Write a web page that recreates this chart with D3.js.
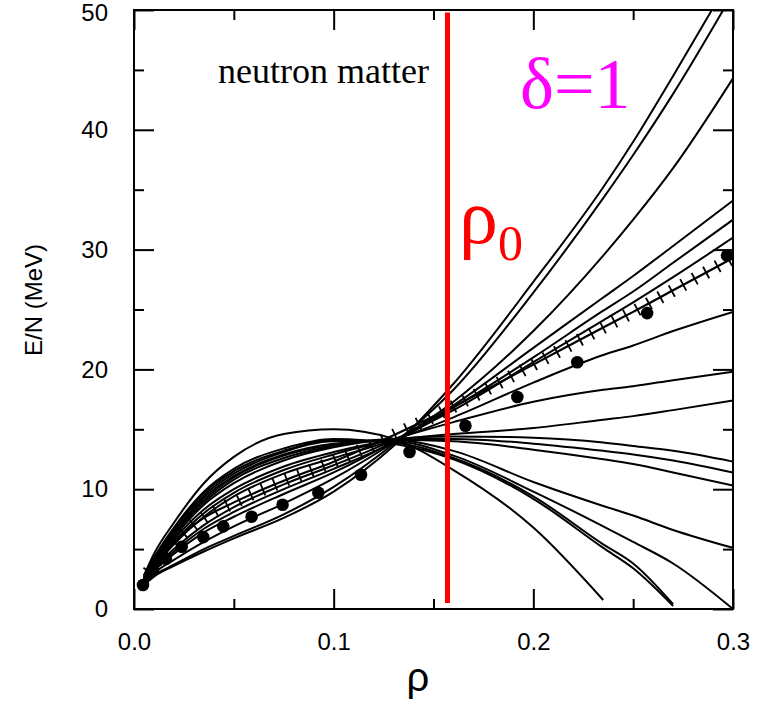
<!DOCTYPE html>
<html>
<head>
<meta charset="utf-8">
<script src="https://cdnjs.cloudflare.com/ajax/libs/d3/7.8.5/d3.min.js"></script>
<style>
  html, body { margin: 0; padding: 0; background: #fff; }
  svg { display: block; }
</style>
</head>
<body>
<svg id="chart" width="758" height="701"></svg>
<script>
// ---- data ----
const rhoGrid = [0.005, 0.01, 0.02, 0.035, 0.05, 0.075, 0.1, 0.13, 0.16, 0.2, 0.235, 0.25, 0.27, 0.3];

const eosA = [2.0, 2.7, 3.6, 4.8, 5.9, 7.6, 9.8, 13.6, 18.8, 27.3, 35.2, 39.0, 44.5, 53.0];
const eosB = [2.1, 2.8, 3.7, 5.0, 6.1, 7.9, 10.2, 13.8, 18.3, 26.4, 34.3, 37.9, 43.0, 51.4];
const eosC = [2.2, 3.0, 4.1, 5.6, 6.9, 8.8, 10.9, 13.9, 17.3, 23.2, 29.5, 32.5, 36.8, 44.3];
const eosD = [2.3, 3.2, 4.6, 6.4, 7.7, 9.6, 11.4, 14.0, 17.0, 21.8, 26.0, 27.8, 30.3, 34.1];
const eosE = [2.3, 3.3, 4.8, 6.7, 8.1, 10.0, 11.7, 13.9, 16.8, 21.0, 24.9, 26.5, 28.9, 32.5];
const eosF = [2.4, 3.4, 5.0, 7.0, 8.5, 10.4, 12.0, 14.1, 16.6, 20.6, 24.1, 25.6, 27.7, 31.0];
const eosG = [2.4, 3.5, 5.4, 7.7, 9.4, 11.3, 12.6, 14.1, 16.0, 18.9, 21.2, 22.0, 23.2, 24.8];
const eosH = [2.5, 3.6, 5.6, 8.0, 9.7, 11.6, 12.9, 14.2, 15.6, 17.3, 18.3, 18.6, 19.1, 19.8];
const eosI = [2.5, 3.7, 5.8, 8.3, 10.0, 11.9, 13.1, 14.1, 14.6, 15.1, 15.8, 16.1, 16.6, 17.4];
const eosJ = [2.5, 3.8, 6.0, 8.7, 10.5, 12.4, 13.5, 14.2, 14.4, 14.3, 13.9, 13.6, 13.2, 12.3];
const eosK = [2.6, 3.9, 6.2, 8.9, 10.8, 12.6, 13.6, 14.2, 14.2, 13.8, 13.2, 12.9, 12.4, 11.4];
const eosL = [2.6, 4.0, 6.3, 9.1, 11.0, 12.8, 13.7, 14.1, 14.0, 13.3, 12.5, 12.1, 11.4, 10.3];
const eosM = [2.6, 4.0, 6.4, 9.3, 11.1, 12.9, 13.8, 14.1, 13.2, 10.6, 8.6, 7.8, 6.6, 5.1];
const eosN = [2.7, 4.1, 6.6, 9.5, 11.3, 13.1, 14.0, 14.0, 12.8, 9.8, 6.9, 5.6, 3.8, 0.0];
const eosO = [2.7, 4.2, 6.7, 9.7, 11.5, 13.2, 14.1, 13.9, 12.6, 9.4, 5.4, 3.8, 0.4, null];
const eosP = [2.8, 4.3, 6.8, 9.8, 11.7, 13.4, 14.2, 13.8, 12.5, 9.2, 5.1, 3.4, 0.25, null];
const eosQ = [2.8, 4.6, 7.2, 10.5, 12.7, 14.6, 15.0, 14.2, 11.6, 6.8, 0.75, null, null, null];

// reference curve drawn with cross ticks
const eosRef = [2.6, 3.7, 5.6, 7.6, 8.9, 10.7, 12.3, 14.5, 16.9, 20.4, 23.5, 24.8, 26.6, 29.3];

// filled-circle data points
const dotRho = [0.0045, 0.0095, 0.016, 0.0239, 0.0347, 0.0447, 0.0589, 0.0744, 0.0923, 0.1137, 0.138, 0.166, 0.192, 0.222, 0.257, 0.297];
const dotE   = [2.0, 3.2, 4.2, 5.2, 6.0, 6.9, 7.7, 8.7, 9.7, 11.2, 13.1, 15.3, 17.7, 20.6, 24.7, 29.5];

const xMajor = [0.0, 0.1, 0.2, 0.3];
const xMinor = [0.05, 0.15, 0.25];
const yMajor = [0, 10, 20, 30, 40, 50];
const yMinor = [5, 15, 25, 35, 45];
const rho0 = 0.157;

const curveSeries = [eosA, eosB, eosC, eosD, eosE, eosF, eosG, eosH, eosI, eosJ, eosK, eosL, eosM, eosN, eosO, eosP, eosQ];

// ---- layout ----
const svg = d3.select("#chart");
const L = 134, T = 10, W = 599, H = 599;
const x = d3.scaleLinear().domain([0, 0.3]).range([L, L + W]);
const y = d3.scaleLinear().domain([0, 50]).range([T + H, T]);

svg.append("defs").append("clipPath").attr("id", "plotClip")
  .append("rect").attr("x", L).attr("y", T).attr("width", W).attr("height", H);

const toPts = vals => rhoGrid.map((r, i) => [r, vals[i]]).filter(p => p[1] !== null);
const line = d3.line().x(d => x(d[0])).y(d => y(d[1])).curve(d3.curveMonotoneX);

const plot = svg.append("g").attr("clip-path", "url(#plotClip)");

// curves
plot.selectAll("path.eos").data(curveSeries).join("path")
  .attr("class", "eos")
  .attr("d", d => line(toPts(d)))
  .attr("fill", "none").attr("stroke", "#000").attr("stroke-width", 2);

// reference curve with cross ticks
const refPath = plot.append("path")
  .attr("d", line(toPts(eosRef)))
  .attr("fill", "none").attr("stroke", "#000").attr("stroke-width", 2.2);
const node = refPath.node();
const total = node.getTotalLength();
const step = 13, half = 6.5;
const tickData = [];
for (let s = step * 0.6; s < total - 2; s += step) {
  const p = node.getPointAtLength(s);
  const p2 = node.getPointAtLength(Math.min(total, s + 1));
  const p1 = node.getPointAtLength(Math.max(0, s - 1));
  let dx = p2.x - p1.x, dy = p2.y - p1.y;
  const n = Math.hypot(dx, dy) || 1;
  dx /= n; dy /= n;
  tickData.push({x1: p.x - dy * half, y1: p.y + dx * half, x2: p.x + dy * half, y2: p.y - dx * half});
}
plot.selectAll("line.hatch").data(tickData).join("line")
  .attr("class", "hatch")
  .attr("x1", d => d.x1).attr("y1", d => d.y1)
  .attr("x2", d => d.x2).attr("y2", d => d.y2)
  .attr("stroke", "#000").attr("stroke-width", 1.8);

// dots
plot.selectAll("circle.dot").data(dotRho.map((r, i) => [r, dotE[i]])).join("circle")
  .attr("class", "dot")
  .attr("cx", d => x(d[0])).attr("cy", d => y(d[1])).attr("r", 6.3)
  .attr("fill", "#000");

// red rho0 line
svg.append("line")
  .attr("x1", x(rho0)).attr("x2", x(rho0))
  .attr("y1", y(49.8)).attr("y2", y(0.5))
  .attr("stroke", "#ff0000").attr("stroke-width", 5);

// ---- axes ----
const font = "'Liberation Sans', Arial, Helvetica, sans-serif";
function styleAxis(g) {
  g.select(".domain").remove();
  g.selectAll(".tick line").attr("stroke", "#000").attr("stroke-width", 2);
  g.selectAll("text").attr("font-family", font).attr("font-size", 24).attr("fill", "#000");
}
svg.append("g").attr("transform", `translate(0,${T + H})`)
  .call(d3.axisBottom(x).tickValues(xMajor).tickSize(-20).tickPadding(24).tickFormat(d3.format(".1f")))
  .call(styleAxis);
svg.append("g").attr("transform", `translate(0,${T + H})`)
  .call(d3.axisBottom(x).tickValues(xMinor).tickSize(-10).tickFormat(""))
  .call(styleAxis);
svg.append("g").attr("transform", `translate(0,${T})`)
  .call(d3.axisTop(x).tickValues(xMajor).tickSize(-20).tickFormat(""))
  .call(styleAxis);
svg.append("g").attr("transform", `translate(0,${T})`)
  .call(d3.axisTop(x).tickValues(xMinor).tickSize(-10).tickFormat(""))
  .call(styleAxis);
const yAx = svg.append("g").attr("transform", `translate(${L},0)`)
  .call(d3.axisLeft(y).tickValues(yMajor).tickSize(-20).tickPadding(26).tickFormat(d3.format("d")))
  .call(styleAxis);
// keep the top label fully inside the page
yAx.selectAll(".tick text").filter(d => d === 50).attr("dy", "0.42em");
svg.append("g").attr("transform", `translate(${L},0)`)
  .call(d3.axisLeft(y).tickValues(yMinor).tickSize(-10).tickFormat(""))
  .call(styleAxis);
svg.append("g").attr("transform", `translate(${L + W},0)`)
  .call(d3.axisRight(y).tickValues(yMajor).tickSize(-20).tickFormat(""))
  .call(styleAxis);
svg.append("g").attr("transform", `translate(${L + W},0)`)
  .call(d3.axisRight(y).tickValues(yMinor).tickSize(-10).tickFormat(""))
  .call(styleAxis);

// frame
svg.append("rect").attr("x", L).attr("y", T).attr("width", W).attr("height", H)
  .attr("fill", "none").attr("stroke", "#000").attr("stroke-width", 2);

// axis titles
svg.append("text").attr("x", 418).attr("y", 691).attr("text-anchor", "middle")
  .attr("font-family", font).attr("font-size", 40).text("ρ");
svg.append("text").attr("transform", "translate(42,300) rotate(-90)").attr("text-anchor", "middle")
  .attr("font-family", font).attr("font-size", 24).text("E/N (MeV)");

// annotations
const serif = "'Liberation Serif', 'Times New Roman', Times, serif";
svg.append("text").attr("x", 218).attr("y", 83)
  .attr("font-family", serif).attr("font-size", 36).text("neutron matter");
svg.append("text").attr("x", 520).attr("y", 108)
  .attr("font-family", serif).attr("font-size", 72).attr("fill", "#ff00ff").text("δ=1");
const r0 = svg.append("text").attr("x", 459).attr("y", 243)
  .attr("font-family", serif).attr("fill", "#ff0000");
r0.append("tspan").attr("font-size", 78).text("ρ");
r0.append("tspan").attr("font-size", 50).attr("dy", 17).text("0");
</script>
</body>
</html>
